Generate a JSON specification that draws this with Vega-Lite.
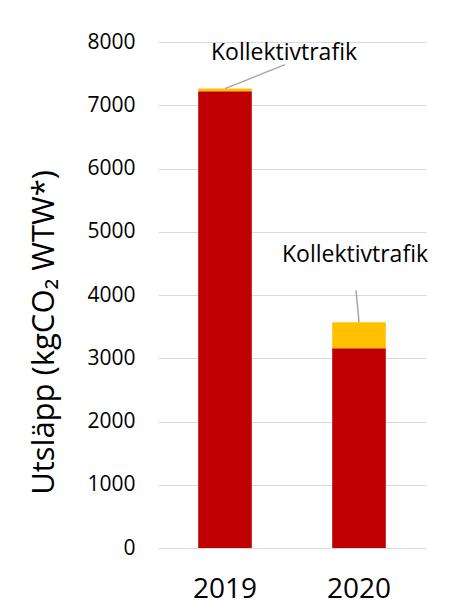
{
  "$schema": "https://vega.github.io/schema/vega-lite/v6.json",
  "autosize": {"type": "none"},
  "padding": {"left": 158, "top": 42, "right": 23, "bottom": 67},
  "width": 268,
  "height": 506,
  "background": "white",
  "config": {
    "view": {"stroke": null},
    "font": "Open Sans"
  },
  "data": {
    "values": [
      {"year": "2019", "category": "Bil", "value": 7221},
      {"year": "2019", "category": "Kollektivtrafik", "value": 42},
      {"year": "2020", "category": "Bil", "value": 3158},
      {"year": "2020", "category": "Kollektivtrafik", "value": 411}
    ]
  },
  "encoding": {
    "x": {
      "field": "year",
      "type": "nominal",
      "scale": {"paddingInner": 0.6, "paddingOuter": 0.3},
      "axis": {
        "title": null,
        "labelAngle": 0,
        "labelFontSize": 28,
        "labelColor": "#000000",
        "labelPadding": 27,
        "domain": false,
        "ticks": false
      }
    }
  },
  "layer": [
    {
      "mark": {"type": "bar"},
      "encoding": {
        "y": {
          "field": "value",
          "type": "quantitative",
          "stack": "zero",
          "scale": {"domain": [0, 8000]},
          "axis": {
            "values": [0, 1000, 2000, 3000, 4000, 5000, 6000, 7000, 8000],
            "format": "d",
            "title": "Utsläpp (kgCO₂ WTW*)",
            "titleFontSize": 31,
            "titleFontWeight": "normal",
            "titleColor": "#000000",
            "titleY": 290,
            "titleX": -105,
            "titleBaseline": "alphabetic",
            "labelFontSize": 21,
            "labelColor": "#000000",
            "labelPadding": 23,
            "ticks": false,
            "domain": false,
            "gridColor": "#D9D9D9",
            "gridWidth": 1
          }
        },
        "color": {
          "field": "category",
          "type": "nominal",
          "scale": {"domain": ["Bil", "Kollektivtrafik"], "range": ["#C00000", "#FFC000"]},
          "legend": null
        },
        "order": {"field": "category", "sort": "ascending"}
      }
    },
    {
      "transform": [
        {"joinaggregate": [{"op": "sum", "field": "value", "as": "total"}], "groupby": ["year"]},
        {"filter": "datum.category === 'Kollektivtrafik' && datum.year === '2019'"}
      ],
      "layer": [
        {
          "mark": {"type": "rule", "color": "#A6A6A6", "strokeWidth": 1.5, "x2Offset": 60, "y2Offset": -24},
          "encoding": {
            "x": {"field": "year", "type": "nominal", "bandPosition": 0.5},
            "x2": {"field": "year", "bandPosition": 0.5},
            "y": {"field": "total", "type": "quantitative"},
            "y2": {"field": "total"}
          }
        },
        {
          "mark": {"type": "text", "fontSize": 23, "color": "#000000", "dx": 59, "dy": -36, "baseline": "middle", "align": "center"},
          "encoding": {
            "y": {"field": "total", "type": "quantitative"},
            "text": {"field": "category"}
          }
        }
      ]
    },
    {
      "transform": [
        {"joinaggregate": [{"op": "sum", "field": "value", "as": "total"}], "groupby": ["year"]},
        {"filter": "datum.category === 'Kollektivtrafik' && datum.year === '2020'"}
      ],
      "layer": [
        {
          "mark": {"type": "rule", "color": "#A6A6A6", "strokeWidth": 1.5, "x2Offset": -3, "y2Offset": -32},
          "encoding": {
            "x": {"field": "year", "type": "nominal", "bandPosition": 0.5},
            "x2": {"field": "year", "bandPosition": 0.5},
            "y": {"field": "total", "type": "quantitative"},
            "y2": {"field": "total"}
          }
        },
        {
          "mark": {"type": "text", "fontSize": 23, "color": "#000000", "dx": -4, "dy": -67, "baseline": "middle", "align": "center"},
          "encoding": {
            "y": {"field": "total", "type": "quantitative"},
            "text": {"field": "category"}
          }
        }
      ]
    }
  ]
}
